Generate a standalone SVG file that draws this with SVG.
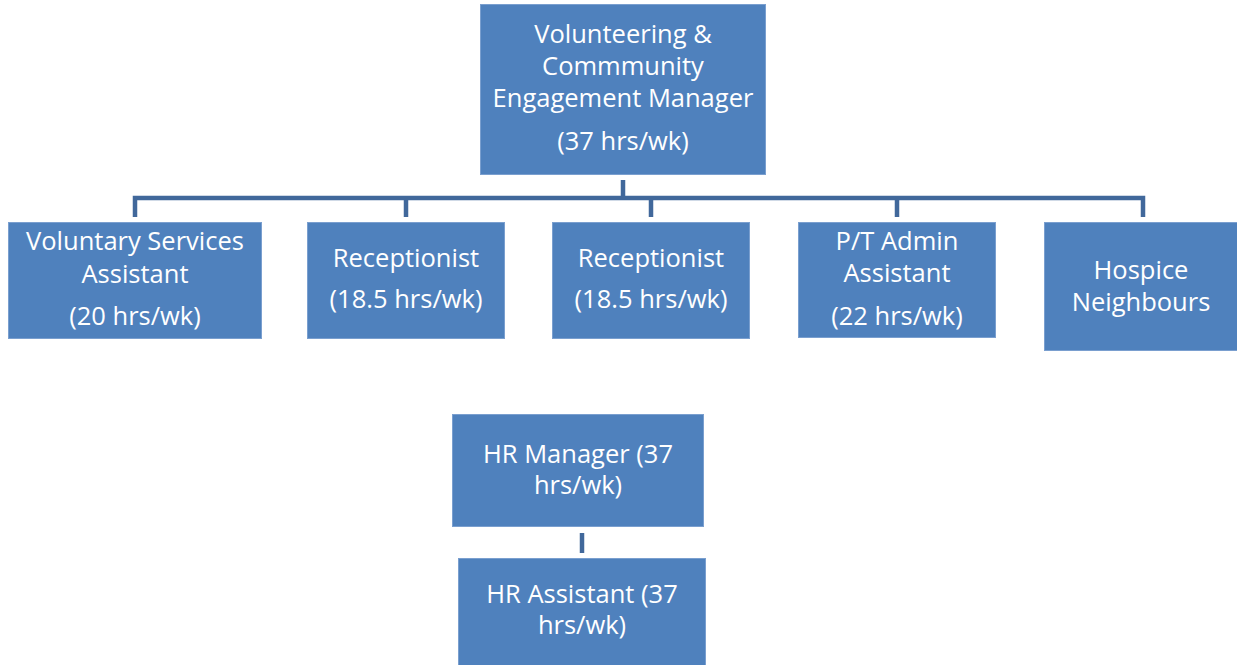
<svg xmlns="http://www.w3.org/2000/svg" width="1237" height="665" viewBox="0 0 1237 665">
<style>
.box{fill:#4F81BD;stroke:#7A9FCF;stroke-width:1}
.t{font-family:"Open Sans",Lato,sans-serif;font-size:25.5px;fill:#FFFFFF;text-anchor:middle}
.c{stroke:#41689B;stroke-width:4.5;fill:none}
</style>
<rect width="1237" height="665" fill="#FFFFFF"/>
<g id="connectors">
<path class="c" d="M623 180V198M135 217V198H1143V217M406 198V217M651 198V217M897 198V217"/>
<path class="c" d="M582 533V553"/>
</g>
<g id="manager">
<rect class="box" x="480.5" y="4.5" width="285" height="170"/>
<text class="t" x="623" y="43">Volunteering &amp;</text>
<text class="t" x="623" y="75">Commmunity</text>
<text class="t" x="623" y="107">Engagement Manager</text>
<text class="t" x="623" y="150">(37 hrs/wk)</text>
</g>
<g id="vsa">
<rect class="box" x="8.5" y="222.5" width="253" height="116"/>
<text class="t" x="135" y="250">Voluntary Services</text>
<text class="t" x="135" y="283">Assistant</text>
<text class="t" x="135" y="325">(20 hrs/wk)</text>
</g>
<g id="receptionist1">
<rect class="box" x="307.5" y="222.5" width="197" height="116"/>
<text class="t" x="406" y="267">Receptionist</text>
<text class="t" x="406" y="308">(18.5 hrs/wk)</text>
</g>
<g id="receptionist2">
<rect class="box" x="552.5" y="222.5" width="197" height="116"/>
<text class="t" x="651" y="267">Receptionist</text>
<text class="t" x="651" y="308">(18.5 hrs/wk)</text>
</g>
<g id="ptadmin">
<rect class="box" x="798.5" y="222.5" width="197" height="115"/>
<text class="t" x="897" y="250">P/T Admin</text>
<text class="t" x="897" y="282">Assistant</text>
<text class="t" x="897" y="325">(22 hrs/wk)</text>
</g>
<g id="hospice">
<rect class="box" x="1044.5" y="222.5" width="193" height="128"/>
<text class="t" x="1141" y="279">Hospice</text>
<text class="t" x="1141" y="311">Neighbours</text>
</g>
<g id="hrmanager">
<rect class="box" x="452.5" y="414.5" width="251" height="112"/>
<text class="t" x="578" y="463">HR Manager (37</text>
<text class="t" x="578" y="494">hrs/wk)</text>
</g>
<g id="hrassistant">
<rect class="box" x="458.5" y="558.5" width="247" height="110"/>
<text class="t" x="582" y="603">HR Assistant (37</text>
<text class="t" x="582" y="634">hrs/wk)</text>
</g>
</svg>
